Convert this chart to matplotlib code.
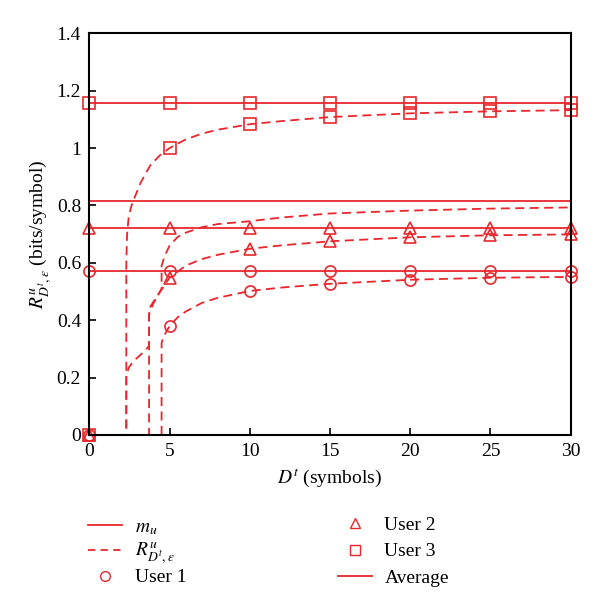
import matplotlib
matplotlib.use('Agg')
import matplotlib.pyplot as plt
from matplotlib.lines import Line2D

plt.rcParams['font.family'] = ['Liberation Serif', 'DejaVu Serif']
plt.rcParams['mathtext.fontset'] = 'stix'

RED = '#e8262c'

# marker positions (symbols)
mark_x = [0, 5, 10, 15, 20, 25, 30]

# m_u levels (solid lines)
m_user1 = 0.573
m_user2 = 0.722
m_user3 = 1.158
m_avg = 0.817

# R^u curves (dashed)
user1_x = [0, 4.5, 4.5, 4.6, 4.8, 5, 5.5, 6, 7, 8, 10, 12, 15, 20, 25, 30]
user1_y = [0, 0, 0.32, 0.34, 0.36, 0.38, 0.41, 0.43, 0.46, 0.478, 0.502, 0.514, 0.527, 0.541, 0.548, 0.551]

user2_x = [0, 3.72, 3.72, 3.85, 4.0, 4.3, 4.6, 5, 6, 7, 8, 10, 12, 15, 20, 25, 30]
user2_y = [0, 0, 0.42, 0.44, 0.46, 0.49, 0.515, 0.548, 0.59, 0.613, 0.628, 0.649, 0.661, 0.675, 0.689, 0.696, 0.699]

user3_x = [0, 2.3, 2.3, 2.35, 2.45, 2.6, 2.8, 3.2, 3.8, 4.4, 5, 6, 7, 8, 10, 12, 15, 20, 25, 30]
user3_y = [0, 0, 0.6, 0.7, 0.76, 0.795, 0.825, 0.88, 0.94, 0.975, 1.0, 1.03, 1.05, 1.064, 1.083, 1.094, 1.108, 1.121, 1.128, 1.132]

avg_x = [0, 2.3, 2.3, 2.45, 2.8, 3.3, 3.72, 3.72, 4.0, 4.3, 4.5, 4.5, 4.7, 5, 5.5, 6, 7, 8, 10, 12, 15, 20, 25, 30]
avg_y = [0, 0, 0.2, 0.235, 0.26, 0.285, 0.31, 0.44, 0.465, 0.49, 0.51, 0.59, 0.625, 0.66, 0.69, 0.705, 0.724, 0.735, 0.745, 0.758, 0.772, 0.782, 0.789, 0.793]

user1_mark = [0, 0.38, 0.502, 0.527, 0.541, 0.548, 0.551]
user2_mark = [0, 0.548, 0.649, 0.675, 0.689, 0.696, 0.699]
user3_mark = [0, 1.0, 1.083, 1.108, 1.121, 1.128, 1.132]

fig = plt.figure(figsize=(6.0, 6.05), dpi=100)
ax = fig.add_axes([0.149, 0.281, 0.802, 0.664])

mk = dict(color=RED, markerfacecolor='none', markeredgewidth=1.2, markersize=8, clip_on=False)

# solid m_u lines
for lvl, m in [(m_user1, 'o'), (m_user2, '^'), (m_user3, 's')]:
    ax.plot([0, 30], [lvl, lvl], '-', color=RED, lw=1.3, clip_on=False)
    ax.plot(mark_x, [lvl] * len(mark_x), m, linestyle='none', **mk)
ax.plot([0, 30], [m_avg, m_avg], '-', color=RED, lw=1.3)

# dashed R curves
for xs, ys in [(user1_x, user1_y), (user2_x, user2_y), (user3_x, user3_y), (avg_x, avg_y)]:
    ax.plot(xs, ys, '--', color=RED, lw=1.3, dashes=(5, 3), clip_on=False)
for ys, m in [(user1_mark, 'o'), (user2_mark, '^'), (user3_mark, 's')]:
    ax.plot(mark_x, ys, m, linestyle='none', **mk)

ax.set_xlim(0, 30)
ax.set_ylim(0, 1.4)
ax.set_xticks([0, 5, 10, 15, 20, 25, 30])
ax.set_yticks([0, 0.2, 0.4, 0.6, 0.8, 1.0, 1.2, 1.4])
ax.set_yticklabels(['0', '0.2', '0.4', '0.6', '0.8', '1', '1.2', '1.4'])
ax.tick_params(direction='in', length=5, width=1.2, labelsize=14, pad=6)
for sp in ax.spines.values():
    sp.set_linewidth(1.5)

ax.set_xlabel('$D^t$ (symbols)', fontsize=14, labelpad=4)
ax.set_ylabel(r'$R^u_{D^t,\varepsilon}$ (bits/symbol)', fontsize=14, labelpad=2)

left_handles = [
    Line2D([], [], color=RED, lw=1.3),
    Line2D([], [], color=RED, lw=1.3, ls='--', dashes=(4, 3)),
    Line2D([], [], color=RED, marker='o', ls='none', markerfacecolor='none', markersize=7),
]
left_labels = ['$m_u$', r'$R^u_{D^t,\varepsilon}$', 'User 1']
right_handles = [
    Line2D([], [], color=RED, marker='^', ls='none', markerfacecolor='none', markersize=7),
    Line2D([], [], color=RED, marker='s', ls='none', markerfacecolor='none', markersize=7),
    Line2D([], [], color=RED, lw=1.3),
]
right_labels = ['User 2', 'User 3', 'Average']

leg_kw = dict(frameon=False, fontsize=14, loc='upper left', borderpad=0,
              borderaxespad=0, handlelength=1.75, handletextpad=0.65)
fig.legend(left_handles, left_labels, bbox_to_anchor=(0.147, 0.143),
           labelspacing=0.14, **leg_kw)
fig.legend(right_handles, right_labels, bbox_to_anchor=(0.563, 0.147),
           labelspacing=0.47, **leg_kw)

fig.savefig('out.png', dpi=100)
